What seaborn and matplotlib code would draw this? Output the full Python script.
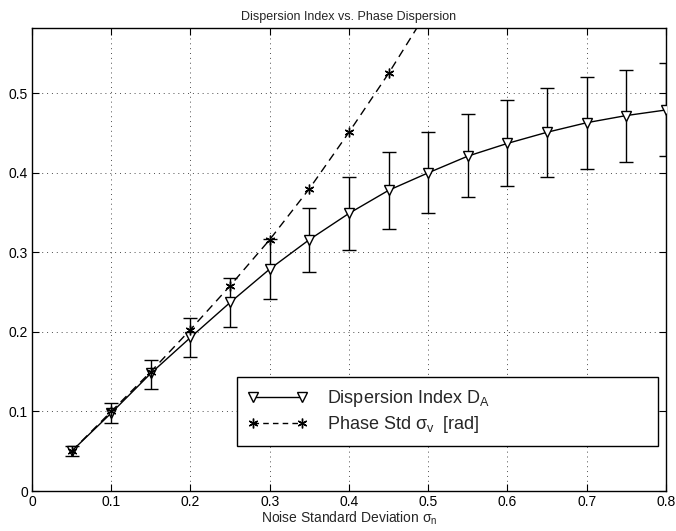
import numpy as np
import pandas as pd
import matplotlib
matplotlib.use('Agg')
import matplotlib.pyplot as plt
import seaborn as sns

# Данные
sigma_n = [0.05, 0.10, 0.15, 0.20, 0.25, 0.30, 0.35, 0.40,
           0.45, 0.50, 0.55, 0.60, 0.65, 0.70, 0.75, 0.80]
disp_index = [0.050, 0.098, 0.148, 0.193, 0.237, 0.279, 0.316, 0.349,
              0.378, 0.400, 0.421, 0.437, 0.451, 0.463, 0.472, 0.479]
err_low = [0.044, 0.086, 0.128, 0.169, 0.206, 0.241, 0.275, 0.303,
           0.330, 0.349, 0.369, 0.383, 0.395, 0.405, 0.414, 0.421]
err_high = [0.056, 0.111, 0.165, 0.217, 0.268, 0.317, 0.356, 0.395,
            0.426, 0.451, 0.474, 0.492, 0.507, 0.520, 0.529, 0.538]

sigma_n_phase = [0.05, 0.10, 0.15, 0.20, 0.25, 0.30, 0.35, 0.40, 0.45, 0.50]
phase_std = [0.050, 0.100, 0.150, 0.203, 0.258, 0.316, 0.380, 0.451, 0.525, 0.605]

x_ticks = [0, 0.1, 0.2, 0.3, 0.4, 0.5, 0.6, 0.7, 0.8]
x_tick_labels = ['0', '0.1', '0.2', '0.3', '0.4', '0.5', '0.6', '0.7', '0.8']
y_ticks = [0, 0.1, 0.2, 0.3, 0.4, 0.5]
y_tick_labels = ['0', '0.1', '0.2', '0.3', '0.4', '0.5']

df_disp = pd.DataFrame({'x': sigma_n, 'y': disp_index})
df_phase = pd.DataFrame({'x': sigma_n_phase, 'y': phase_std})

sns.set_style('ticks')
plt.rcParams['font.family'] = ['Liberation Sans', 'DejaVu Sans']
plt.rcParams['mathtext.fontset'] = 'custom'
plt.rcParams['mathtext.rm'] = 'Liberation Sans'
plt.rcParams['mathtext.it'] = 'Liberation Sans'

fig = plt.figure(figsize=(6.76, 5.31), dpi=100)
ax = fig.add_axes([0.0473, 0.0753, 0.9379, 0.8719])

# Полосы ошибок
yerr = [np.array(disp_index) - np.array(err_low), np.array(err_high) - np.array(disp_index)]
eb = ax.errorbar(sigma_n, disp_index, yerr=yerr, fmt='none', ecolor='black',
                 elinewidth=1.0, capsize=5, capthick=1.0, zorder=2)

sns.lineplot(data=df_disp, x='x', y='y', ax=ax, color='black', linewidth=1.0,
             marker='v', markersize=7, markerfacecolor='white', markeredgecolor='black',
             markeredgewidth=1.0, label='Dispersion Index D$_A$', zorder=3)
sns.lineplot(data=df_phase, x='x', y='y', ax=ax, color='black', linewidth=1.0,
             marker=(6, 2, 0), markersize=7,
             markeredgecolor='black', markeredgewidth=1.0,
             label='Phase Std $\\sigma_v$  [rad]', zorder=3)
ax.lines[-1].set_linestyle((0, (6, 4)))

ax.set_xlim(0, 0.8)
ax.set_ylim(0, 0.582)
ax.set_xticks(x_ticks)
ax.set_xticklabels(x_tick_labels)
ax.set_yticks(y_ticks)
ax.set_yticklabels(y_tick_labels)
ax.tick_params(direction='in', top=True, right=True, length=5, width=0.8,
               labelsize=10, pad=3, colors='black')
ax.grid(True, color='black', linestyle=(0, (1, 4)), linewidth=0.7, alpha=0.7)
for s in ax.spines.values():
    s.set_color('black')
    s.set_linewidth(1.0)

ax.set_title('Dispersion Index vs. Phase Dispersion', fontsize=9, pad=6)
ax.set_xlabel('Noise Standard Deviation $\\sigma_n$', fontsize=10, labelpad=0)
ax.set_ylabel('')

leg = ax.legend(loc='lower left', bbox_to_anchor=(0.323, 0.097, 0.665, 0.158),
                mode='expand', fontsize=13, handlelength=3.3, numpoints=2,
                fancybox=False, framealpha=1, edgecolor='black',
                borderpad=0.6, borderaxespad=0, labelspacing=0.3,
                handletextpad=1.1)
leg.get_frame().set_linewidth(1.0)
leg.get_lines()[1].set_linestyle((0, (4, 3)))

plt.savefig('out.png', dpi=100)
plt.close()
